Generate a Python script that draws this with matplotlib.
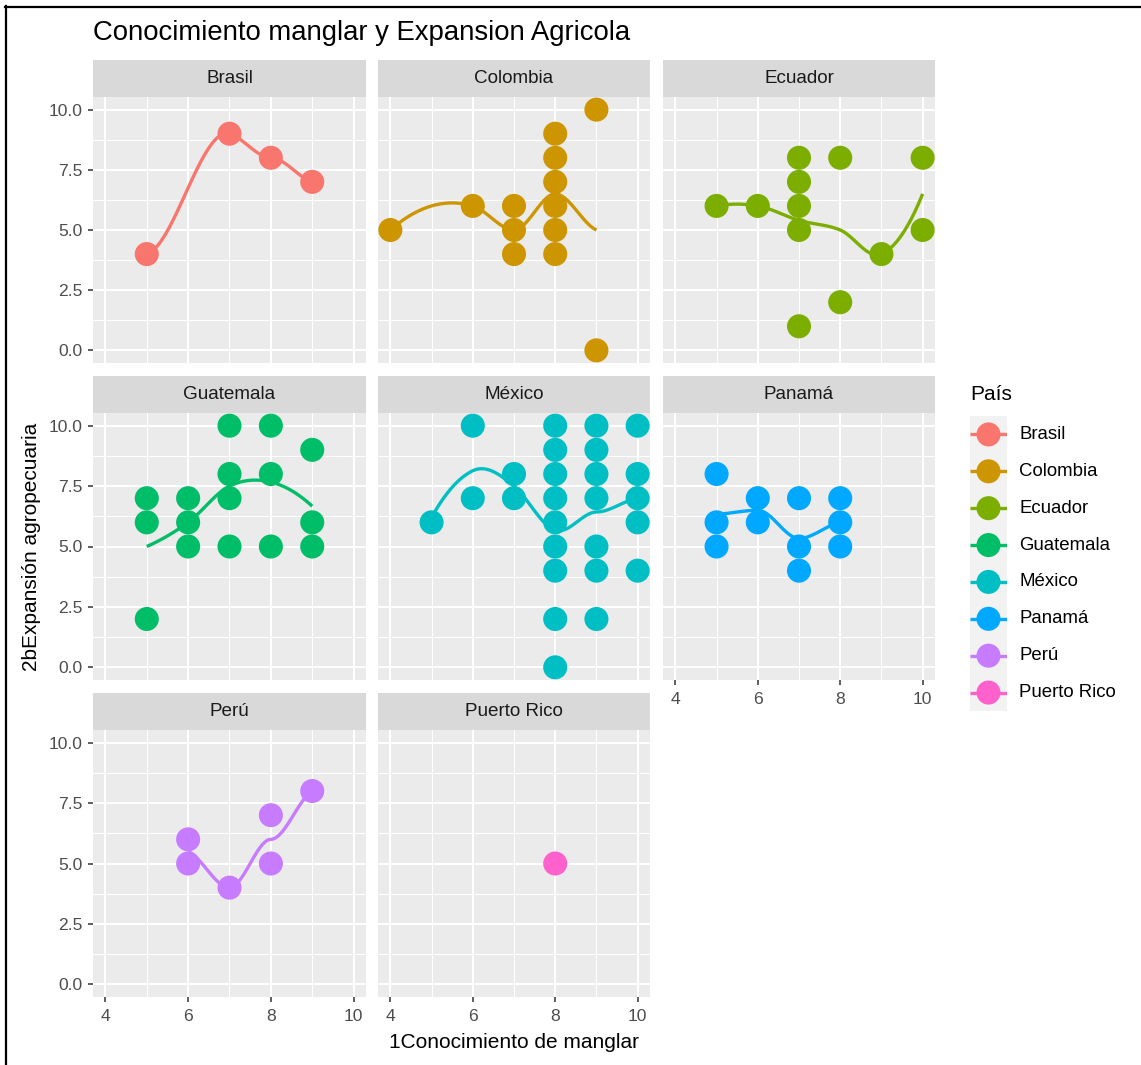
import numpy as np
import matplotlib
matplotlib.use("Agg")
import matplotlib.pyplot as plt
from matplotlib.lines import Line2D

plt.rcParams["font.family"] = ["Liberation Sans", "DejaVu Sans"]

# data: x = 1Conocimiento de manglar, y = 2bExpansion agropecuaria
paises = ["Brasil", "Colombia", "Ecuador", "Guatemala", "México", "Panamá", "Perú", "Puerto Rico"]
colores = ["#F8766D", "#CD9600", "#7CAE00", "#00BE67", "#00BFC4", "#00A9FF", "#C77CFF", "#FF61CC"]

brasil_x = [5, 7, 8, 9]
brasil_y = [4, 9, 8, 7]
colombia_x = [4, 6, 7, 7, 7, 8, 8, 8, 8, 8, 8, 9, 9]
colombia_y = [5, 6, 6, 5, 4, 9, 8, 7, 6, 5, 4, 10, 0]
ecuador_x = [5, 6, 7, 7, 7, 7, 7, 8, 8, 9, 10, 10]
ecuador_y = [6, 6, 8, 7, 6, 5, 1, 8, 2, 4, 8, 5]
guatemala_x = [5, 5, 5, 6, 6, 6, 7, 7, 7, 7, 8, 8, 8, 9, 9, 9]
guatemala_y = [7, 6, 2, 7, 6, 5, 10, 8, 7, 5, 10, 8, 5, 9, 6, 5]
mexico_x = [5, 6, 6, 7, 7, 8, 8, 8, 8, 8, 8, 8, 8, 8,
            9, 9, 9, 9, 9, 9, 9, 10, 10, 10, 10, 10]
mexico_y = [6, 10, 7, 8, 7, 10, 9, 8, 7, 6, 5, 4, 2, 0,
            10, 9, 8, 7, 5, 4, 2, 10, 8, 7, 6, 4]
panama_x = [5, 5, 5, 6, 6, 7, 7, 7, 8, 8, 8]
panama_y = [8, 6, 5, 7, 6, 7, 5, 4, 7, 6, 5]
peru_x = [6, 6, 7, 8, 8, 9]
peru_y = [6, 5, 4, 7, 5, 8]
prico_x = [8]
prico_y = [5]

datos = [(brasil_x, brasil_y), (colombia_x, colombia_y), (ecuador_x, ecuador_y),
         (guatemala_x, guatemala_y), (mexico_x, mexico_y), (panama_x, panama_y),
         (peru_x, peru_y), (prico_x, prico_y)]


def local_fit(x, y, x0, span=0.75):
    # local quadratic fit with tricube weights (loess style)
    n = len(x)
    q = max(int(np.floor(n * span)), 1)
    d = np.abs(x - x0)
    h = np.sort(d)[q - 1]
    if h <= 0:
        h = 1e-9
    w = np.clip(1 - (d / h) ** 3, 0, 1) ** 3
    u = x - x0
    A = np.vstack([np.ones(n), u, u ** 2]).T
    sw = np.sqrt(w)
    coef = np.linalg.lstsq(A * sw[:, None], y * sw, rcond=None)[0]
    return coef[0], coef[1]


def loess_curve(x, y, npts=80):
    x = np.asarray(x, float)
    y = np.asarray(y, float)
    ux = np.unique(x)
    vals = [local_fit(x, y, v) for v in ux]
    f = np.array([v[0] for v in vals])
    s = np.array([v[1] for v in vals])
    xs = np.linspace(ux[0], ux[-1], npts)
    ys = np.empty_like(xs)
    for k, xv in enumerate(xs):
        i = min(np.searchsorted(ux, xv, side="right") - 1, len(ux) - 2)
        i = max(i, 0)
        hw = ux[i + 1] - ux[i]
        t = (xv - ux[i]) / hw
        h00 = 2 * t**3 - 3 * t**2 + 1
        h10 = t**3 - 2 * t**2 + t
        h01 = -2 * t**3 + 3 * t**2
        h11 = t**3 - t**2
        ys[k] = h00 * f[i] + h10 * hw * s[i] + h01 * f[i + 1] + h11 * hw * s[i + 1]
    return xs, ys


W, H = 1141, 1065
fig = plt.figure(figsize=(W / 100, H / 100), dpi=100)


def box(x0, y0, x1, y1):
    return [x0 / W, 1 - y1 / H, (x1 - x0) / W, (y1 - y0) / H]


cols = [(93, 366), (378, 650), (663, 935)]
rows = [(97, 363), (413, 680), (730, 997)]
strip_h = 37

for idx, (pais, col, (xd, yd)) in enumerate(zip(paises, colores, datos)):
    r, c = divmod(idx, 3)
    x0, x1 = cols[c]
    y0, y1 = rows[r]
    ax = fig.add_axes(box(x0, y0, x1, y1))
    ax.set_facecolor("#EBEBEB")
    ax.set_xlim(3.7, 10.3)
    ax.set_ylim(-0.525, 10.525)
    ax.set_xticks([4, 6, 8, 10])
    ax.set_xticks([5, 7, 9], minor=True)
    ax.set_yticks([0, 2.5, 5, 7.5, 10])
    ax.set_yticks([1.25, 3.75, 6.25, 8.75], minor=True)
    ax.set_yticklabels(["0.0", "2.5", "5.0", "7.5", "10.0"])
    ax.grid(which="major", color="white", lw=1.5)
    ax.grid(which="minor", color="white", lw=0.75)
    ax.set_axisbelow(True)
    for sp in ax.spines.values():
        sp.set_visible(False)
    ax.tick_params(which="minor", length=0)
    ax.tick_params(which="major", length=3.8, width=1.1, color="#333333",
                   labelsize=12.6, labelcolor="#4D4D4D")
    ax.tick_params(axis="x", pad=4.5)
    ax.tick_params(axis="y", pad=3.5)
    show_x = (r == 2) or (r == 1 and c == 2)
    if not show_x:
        ax.tick_params(axis="x", length=0, labelbottom=False)
    if c != 0:
        ax.tick_params(axis="y", length=0, labelleft=False)

    ax.scatter(xd, yd, s=300, color=col, edgecolors="none", zorder=3)
    if len(xd) > 3:
        xs, ys = loess_curve(xd, yd)
        ax.plot(xs, ys, color=col, lw=2.4, zorder=4, solid_capstyle="butt")

    sax = fig.add_axes(box(x0, y0 - strip_h, x1, y0))
    sax.set_facecolor("#D9D9D9")
    sax.set_xticks([])
    sax.set_yticks([])
    for sp in sax.spines.values():
        sp.set_visible(False)
    sax.text(0.5, 0.5, pais, ha="center", va="center", fontsize=13.6,
             color="#1A1A1A", transform=sax.transAxes)

# titles
fig.text(93 / W, 1 - 33 / H, "Conocimiento manglar y Expansion Agricola",
         fontsize=19.8, color="black", ha="left", va="center")
fig.text(514 / W, 1 - 1043 / H, "1Conocimiento de manglar",
         fontsize=15, color="black", ha="center", va="center")
fig.text(32 / W, 1 - 547 / H, "2bExpansión agropecuaria",
         fontsize=15, color="black", ha="center", va="center", rotation=90)

# legend
lax = fig.add_axes(box(970, 416, 1007, 711))
lax.set_facecolor("#F2F2F2")
lax.set_xlim(0, 1)
lax.set_ylim(len(paises), 0)
lax.set_xticks([])
lax.set_yticks([])
for sp in lax.spines.values():
    sp.set_visible(False)
for i, (pais, col) in enumerate(zip(paises, colores)):
    lax.plot([0, 1], [i + 0.5, i + 0.5], color=col, lw=2.4, solid_capstyle="butt")
    lax.scatter([0.5], [i + 0.5], s=300, color=col, edgecolors="none", zorder=3)
    lax.text(1.33, i + 0.5, pais, fontsize=13.4, color="black",
             ha="left", va="center", clip_on=False)
fig.text(970 / W, 1 - 395 / H, "País", fontsize=15, color="black",
         ha="left", va="center")

# screenshot frame
fig.add_artist(Line2D([5 / W, 1], [1 - 6.5 / H, 1 - 6.5 / H], color="black", lw=1.6))
fig.add_artist(Line2D([5.5 / W, 5.5 / W], [0, 1 - 6 / H], color="black", lw=1.6))

fig.savefig("out.png", dpi=100)
